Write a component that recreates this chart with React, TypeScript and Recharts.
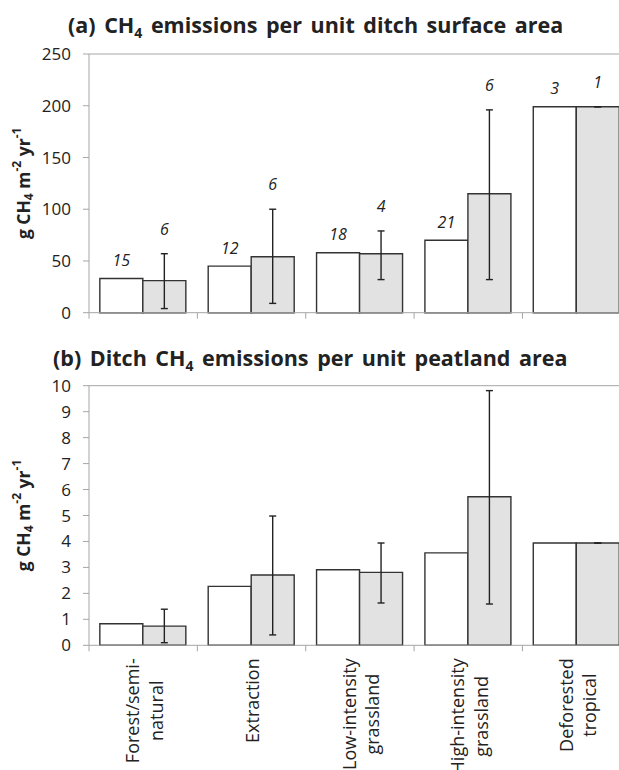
import React from 'react';
import { BarChart, Bar, XAxis, YAxis, ErrorBar, LabelList, ReferenceLine } from 'recharts';

const categories = [
  'Forest/semi-\nnatural',
  'Extraction',
  'Low-intensity\ngrassland',
  'High-intensity\ngrassland',
  'Deforested\ntropical',
];

// (a) per unit ditch surface area
const surfaceOpen = [33, 45, 58, 70, 199];
const surfaceShaded = [31, 54, 57, 115, 199];
const surfaceShadedLow = [4, 9, 32, 32, 199];
const surfaceShadedHigh = [57, 100, 79, 196, 199];
const surfaceOpenN = [15, 12, 18, 21, 3];
const surfaceShadedN = [6, 6, 4, 6, 1];
const surfaceTicks = [0, 50, 100, 150, 200, 250];

// (b) per unit peatland area
const peatOpen = [0.83, 2.27, 2.91, 3.56, 3.94];
const peatShaded = [0.74, 2.71, 2.81, 5.72, 3.94];
const peatShadedLow = [0.1, 0.4, 1.63, 1.59, 3.94];
const peatShadedHigh = [1.39, 4.98, 3.94, 9.81, 3.94];
const peatTicks = [0, 1, 2, 3, 4, 5, 6, 7, 8, 9, 10];

const FONT = '"Open Sans", "DejaVu Sans", sans-serif';
const AXIS = '#a6a6a6';
const INK = '#222';
const BAR_EDGE = '#333';
const SHADE = '#e2e2e2';

const W = 650;
const LEFT = 29;
const YW = 60;
const RIGHT = 19.2;
const BAND = (W - LEFT - YW - RIGHT) / categories.length;
const LABEL_SIZE = 18;

const buildRows = (open: number[], shaded: number[], low: number[], high: number[]) =>
  categories.map((name, i) => ({
    name,
    open: open[i],
    shaded: shaded[i],
    err: [shaded[i] - low[i], high[i] - shaded[i]],
  }));

const surfaceRows = buildRows(surfaceOpen, surfaceShaded, surfaceShadedLow, surfaceShadedHigh);
const peatRows = buildRows(peatOpen, peatShaded, peatShadedLow, peatShadedHigh);

let canvas: HTMLCanvasElement | null = null;
const textWidth = (s: string) => {
  if (!canvas) canvas = document.createElement('canvas');
  const ctx = canvas.getContext('2d');
  if (!ctx) return s.length * LABEL_SIZE * 0.55;
  ctx.font = `${LABEL_SIZE}px "Open Sans"`;
  return ctx.measureText(s).width;
};

const countLabel = (counts: number[], values: number[], highs: number[] | null, lift: number) => (p: any) => {
  const vb = p.viewBox || p;
  const { x, y, width, height } = vb;
  const i = p.index;
  const top = highs ? y + height - (highs[i] / values[i]) * height : y;
  return (
    <text x={x + width / 2} y={top - lift} textAnchor="middle" fontStyle="italic" fontSize={16} fill={INK}>
      {counts[i]}
    </text>
  );
};

const boundaryTick = (withLabel: boolean) => (p: any) => {
  const { x, y, payload, index } = p;
  const lines: string[] = withLabel ? String(payload.value).split('\n') : [];
  const longest = Math.max(0, ...lines.map(textWidth));
  const n = lines.length;
  return (
    <g>
      <line x1={x - BAND / 2} x2={x - BAND / 2} y1={y} y2={y + 6} stroke={AXIS} />
      {index === categories.length - 1 && (
        <line x1={x + BAND / 2} x2={x + BAND / 2} y1={y} y2={y + 6} stroke={AXIS} />
      )}
      {withLabel && (
        <text transform={`translate(${x}, ${y + 13}) rotate(-90)`} textAnchor="middle" fontSize={LABEL_SIZE} fill={INK}>
          {lines.map((ln, i) => (
            <tspan key={i} x={-longest / 2} y={(i - (n - 1) / 2) * 23.6 + LABEL_SIZE * 0.43}>
              {ln}
            </tspan>
          ))}
        </text>
      )}
    </g>
  );
};

const yLabel = (p: any) => {
  const vb = p.viewBox || {};
  const cy = vb.y + vb.height / 2;
  const cx = 23;
  return (
    <text
      x={cx}
      y={cy}
      transform={`rotate(-90, ${cx}, ${cy})`}
      textAnchor="middle"
      dominantBaseline="central"
      fontWeight="bold"
      fontSize={17.5}
      fill={INK}
    >
      g CH<tspan dy={5} fontSize={12}>4</tspan>
      <tspan dy={-5}> m</tspan>
      <tspan dy={-7} fontSize={12}>-2</tspan>
      <tspan dy={7}> yr</tspan>
      <tspan dy={-7} fontSize={12}>-1</tspan>
    </text>
  );
};

const Title = ({ top, left, before, after }: { top: number; left: number; before: string; after: string }) => (
  <div
    style={{
      position: 'absolute',
      top,
      left,
      fontSize: 21.5,
      lineHeight: '26px',
      fontWeight: 'bold',
      color: INK,
      whiteSpace: 'nowrap',
      wordSpacing: 3,
    }}
  >
    {before}CH<sub style={{ fontSize: 14, verticalAlign: -5, lineHeight: 0 }}>4</sub>
    {after}
  </div>
);

export default function App() {
  return (
    <div
      style={{
        position: 'absolute',
        top: 0,
        left: 0,
        width: 619,
        height: 770,
        overflow: 'hidden',
        background: '#fff',
        fontFamily: FONT,
      }}
    >
      <Title top={12} left={68} before="(a) " after=" emissions per unit ditch surface area" />
      <div style={{ position: 'absolute', top: 0, left: 0 }}>
        <BarChart
          width={W}
          height={330}
          data={surfaceRows}
          margin={{ top: 54, right: RIGHT, left: LEFT, bottom: 0 }}
          barCategoryGap="10%"
          barGap={0}
        >
          <XAxis
            dataKey="name"
            height={17.3}
            stroke={AXIS}
            tickLine={false}
            tickSize={0}
            tickMargin={0}
            tick={boundaryTick(false)}
            interval={0}
          />
          <YAxis
            width={YW}
            domain={[0, 250]}
            ticks={surfaceTicks}
            interval={0}
            stroke={AXIS}
            tickSize={6}
            tickMargin={12}
            tick={{ fill: INK, fontSize: 17 }}
            label={yLabel}
          />
          <ReferenceLine y={250} stroke={AXIS} />
          <Bar dataKey="open" fill="#fff" stroke={BAR_EDGE} strokeWidth={1.4} isAnimationActive={false}>
            <LabelList dataKey="open" content={countLabel(surfaceOpenN, surfaceOpen, null, 12.4)} />
          </Bar>
          <Bar dataKey="shaded" fill={SHADE} stroke={BAR_EDGE} strokeWidth={1.4} isAnimationActive={false}>
            <ErrorBar dataKey="err" width={3.5} stroke={INK} strokeWidth={1.4} direction="y" isAnimationActive={false} />
            <LabelList dataKey="shaded" content={countLabel(surfaceShadedN, surfaceShaded, surfaceShadedHigh, 19.2)} />
          </Bar>
        </BarChart>
      </div>
      <Title top={345} left={53} before="(b) Ditch " after=" emissions per unit peatland area" />
      <div style={{ position: 'absolute', top: 330, left: 0 }}>
        <BarChart
          width={W}
          height={440}
          data={peatRows}
          margin={{ top: 55.7, right: RIGHT, left: LEFT, bottom: 0 }}
          barCategoryGap="10%"
          barGap={0}
        >
          <XAxis
            dataKey="name"
            height={124.7}
            stroke={AXIS}
            tickLine={false}
            tickSize={0}
            tickMargin={0}
            tick={boundaryTick(true)}
            interval={0}
          />
          <YAxis
            width={YW}
            domain={[0, 10]}
            ticks={peatTicks}
            interval={0}
            stroke={AXIS}
            tickSize={6}
            tickMargin={12}
            tick={{ fill: INK, fontSize: 17 }}
            label={yLabel}
          />
          <ReferenceLine y={10} stroke={AXIS} />
          <Bar dataKey="open" fill="#fff" stroke={BAR_EDGE} strokeWidth={1.4} isAnimationActive={false} />
          <Bar dataKey="shaded" fill={SHADE} stroke={BAR_EDGE} strokeWidth={1.4} isAnimationActive={false}>
            <ErrorBar dataKey="err" width={3.5} stroke={INK} strokeWidth={1.4} direction="y" isAnimationActive={false} />
          </Bar>
        </BarChart>
      </div>
    </div>
  );
}
